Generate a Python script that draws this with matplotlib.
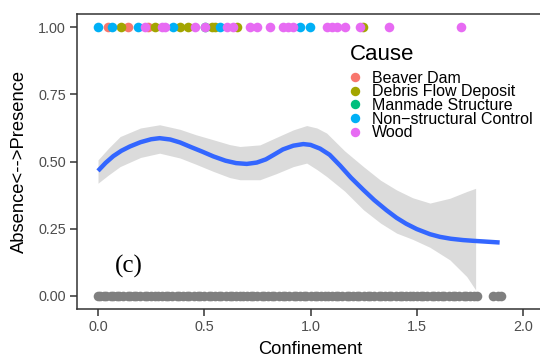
import matplotlib
matplotlib.use("Agg")
import matplotlib.pyplot as plt
from matplotlib.lines import Line2D

# ---------------- data ----------------
causes = ["Beaver Dam", "Debris Flow Deposit", "Manmade Structure",
          "Non\u2212structural Control", "Wood"]
cause_colors = ["#F8766D", "#A3A500", "#00BF7D", "#00B0F6", "#E76BF3"]

# presence points (y = 1) : confinement values per cause
present_beaver = [0.049, 0.143, 0.237]
present_debris = [0.11, 0.268, 0.386, 0.425, 0.535, 0.55, 0.653, 1.248]
present_manmade = [0.504]
present_nonstruct = [0.00, 0.064, 0.19, 0.354, 0.574, 0.95, 0.998]
present_wood = [0.22, 0.30, 0.315, 0.456, 0.504, 0.605, 0.637, 0.715, 0.747,
                0.809, 0.872, 0.896, 0.919, 1.076, 1.10, 1.123, 1.162, 1.233,
                1.371, 1.708]
present_by_cause = [present_beaver, present_debris, present_manmade,
                    present_nonstruct, present_wood]

# absence points (y = 0)
absent_x = [0.00, 0.01, 0.03, 0.04, 0.06, 0.07, 0.09, 0.10, 0.12, 0.14, 0.15,
            0.17, 0.18, 0.20, 0.22, 0.23, 0.25, 0.27, 0.28, 0.30, 0.32, 0.33,
            0.35, 0.37, 0.38, 0.40, 0.42, 0.43, 0.45, 0.47, 0.48, 0.50, 0.52,
            0.53, 0.55, 0.57, 0.58, 0.60, 0.62, 0.63, 0.65, 0.67, 0.68, 0.70,
            0.72, 0.73, 0.75, 0.77, 0.78, 0.80, 0.82, 0.83, 0.85, 0.87, 0.88,
            0.90, 0.92, 0.93, 0.95, 0.97, 0.98, 1.00, 1.02, 1.03, 1.05, 1.07,
            1.08, 1.10, 1.12, 1.13, 1.15, 1.17, 1.18, 1.20, 1.22, 1.23, 1.25,
            1.27, 1.28, 1.30, 1.32, 1.33, 1.35, 1.37, 1.38, 1.40, 1.42, 1.43,
            1.45, 1.47, 1.48, 1.50, 1.52, 1.53, 1.55, 1.57, 1.58, 1.60, 1.62,
            1.63, 1.65, 1.67, 1.68, 1.70, 1.72, 1.73, 1.75, 1.77, 1.785,
            1.86, 1.88, 1.895]

# smoothed fit
fit_x = [0.00, 0.036, 0.072, 0.11, 0.15, 0.20, 0.25, 0.29, 0.34, 0.386, 0.44,
         0.49, 0.543, 0.60, 0.65, 0.70, 0.747, 0.79, 0.825, 0.87, 0.919, 0.966,
         1.00, 1.045, 1.09, 1.139, 1.19, 1.249, 1.30, 1.358, 1.405, 1.45, 1.50,
         1.562, 1.609, 1.66, 1.718, 1.77, 1.83, 1.89]
fit_y = [0.465, 0.495, 0.52, 0.54, 0.556, 0.572, 0.583, 0.587, 0.582, 0.571,
         0.553, 0.537, 0.519, 0.503, 0.494, 0.491, 0.496, 0.508, 0.524, 0.545,
         0.559, 0.565, 0.562, 0.548, 0.525, 0.485, 0.44, 0.394, 0.356, 0.318,
         0.29, 0.268, 0.248, 0.229, 0.219, 0.212, 0.207, 0.204, 0.201, 0.198]

# confidence band
band_x = [0.00, 0.05, 0.104, 0.20, 0.29, 0.386, 0.46, 0.543, 0.62, 0.668,
          0.762, 0.84, 0.919, 0.982, 1.03, 1.076, 1.16, 1.249, 1.33, 1.405,
          1.48, 1.562, 1.656, 1.735, 1.777]
band_hi = [0.506, 0.55, 0.593, 0.625, 0.637, 0.62, 0.60, 0.581, 0.563, 0.556,
           0.562, 0.59, 0.618, 0.634, 0.625, 0.606, 0.54, 0.481, 0.43, 0.394,
           0.365, 0.345, 0.363, 0.388, 0.40]
band_lo = [0.419, 0.45, 0.481, 0.515, 0.531, 0.513, 0.49, 0.463, 0.44, 0.432,
           0.432, 0.455, 0.481, 0.494, 0.47, 0.444, 0.39, 0.32, 0.27, 0.233,
           0.21, 0.18, 0.133, 0.071, 0.021]

x_ticks = [0.0, 0.5, 1.0, 1.5, 2.0]
x_ticklabels = ["0.0", "0.5", "1.0", "1.5", "2.0"]
y_ticks = [0.0, 0.25, 0.5, 0.75, 1.0]
y_ticklabels = ["0.00", "0.25", "0.50", "0.75", "1.00"]

# ---------------- figure ----------------
plt.rcParams["font.family"] = ["Liberation Sans", "DejaVu Sans"]
W, H = 540, 358
fig = plt.figure(figsize=(W / 100, H / 100), dpi=100)
fig.patch.set_facecolor("white")

left_px, right_px, top_px, bottom_px = 77, 543, 14, 309
ax = fig.add_axes([left_px / W, 1 - bottom_px / H,
                   (right_px - left_px) / W, (bottom_px - top_px) / H])
ax.set_xlim(-0.0988, 2.094)
ax.set_ylim(-0.05, 1.05)

msize = 48
ax.scatter(absent_x, [0] * len(absent_x), s=msize, color="#7F7F7F",
           linewidths=0, zorder=2)
for xs, col in zip(present_by_cause, cause_colors):
    ax.scatter(xs, [1] * len(xs), s=msize, color=col, linewidths=0, zorder=2)

ax.fill_between(band_x, band_lo, band_hi, color="#999999", alpha=0.35,
                linewidth=0, zorder=3)
ax.plot(fit_x, fit_y, color="#3366FF", linewidth=3.2, solid_capstyle="butt",
        solid_joinstyle="round", zorder=4)

ax.set_xticks(x_ticks)
ax.set_xticklabels(x_ticklabels)
ax.set_yticks(y_ticks)
ax.set_yticklabels(y_ticklabels)
ax.tick_params(axis="both", which="major", length=5, width=1.1,
               color="#333333", labelcolor="#4D4D4D", labelsize=10.4, pad=3)
for sp in ax.spines.values():
    sp.set_color("#333333")
    sp.set_linewidth(1.1)

ax.set_xlabel("Confinement", fontsize=13.2, color="black")
ax.xaxis.label.set_va("center")
ax.xaxis.set_label_coords(0.5, (H - 349 - (H - bottom_px)) / (bottom_px - top_px))
ax.set_ylabel("Absence<-->Presence", fontsize=13.2, color="black")
ax.yaxis.label.set_va("center")
ax.yaxis.set_label_coords((19 - left_px) / (right_px - left_px), 0.5)

ax.text((129 - left_px) / (right_px - left_px),
        (bottom_px - 266) / (bottom_px - top_px), "(c)",
        transform=ax.transAxes, fontsize=18, family="Liberation Serif",
        ha="center", va="center", color="black")

handles = [Line2D([], [], marker="o", linestyle="", markersize=6.8,
                  markerfacecolor=c, markeredgewidth=0) for c in cause_colors]
leg = ax.legend(handles, causes, title="Cause", loc="upper left",
                bbox_to_anchor=(350 / W, 1 - 44 / H),
                bbox_transform=fig.transFigure, frameon=False,
                fontsize=11.5, title_fontsize=16, alignment="left",
                borderpad=0, borderaxespad=0, labelspacing=-0.08,
                handlelength=0.6, handletextpad=0.75)
leg._legend_box.sep = 4
for t in leg.get_texts():
    t.set_color("black")

fig.savefig("out.png", dpi=100)
